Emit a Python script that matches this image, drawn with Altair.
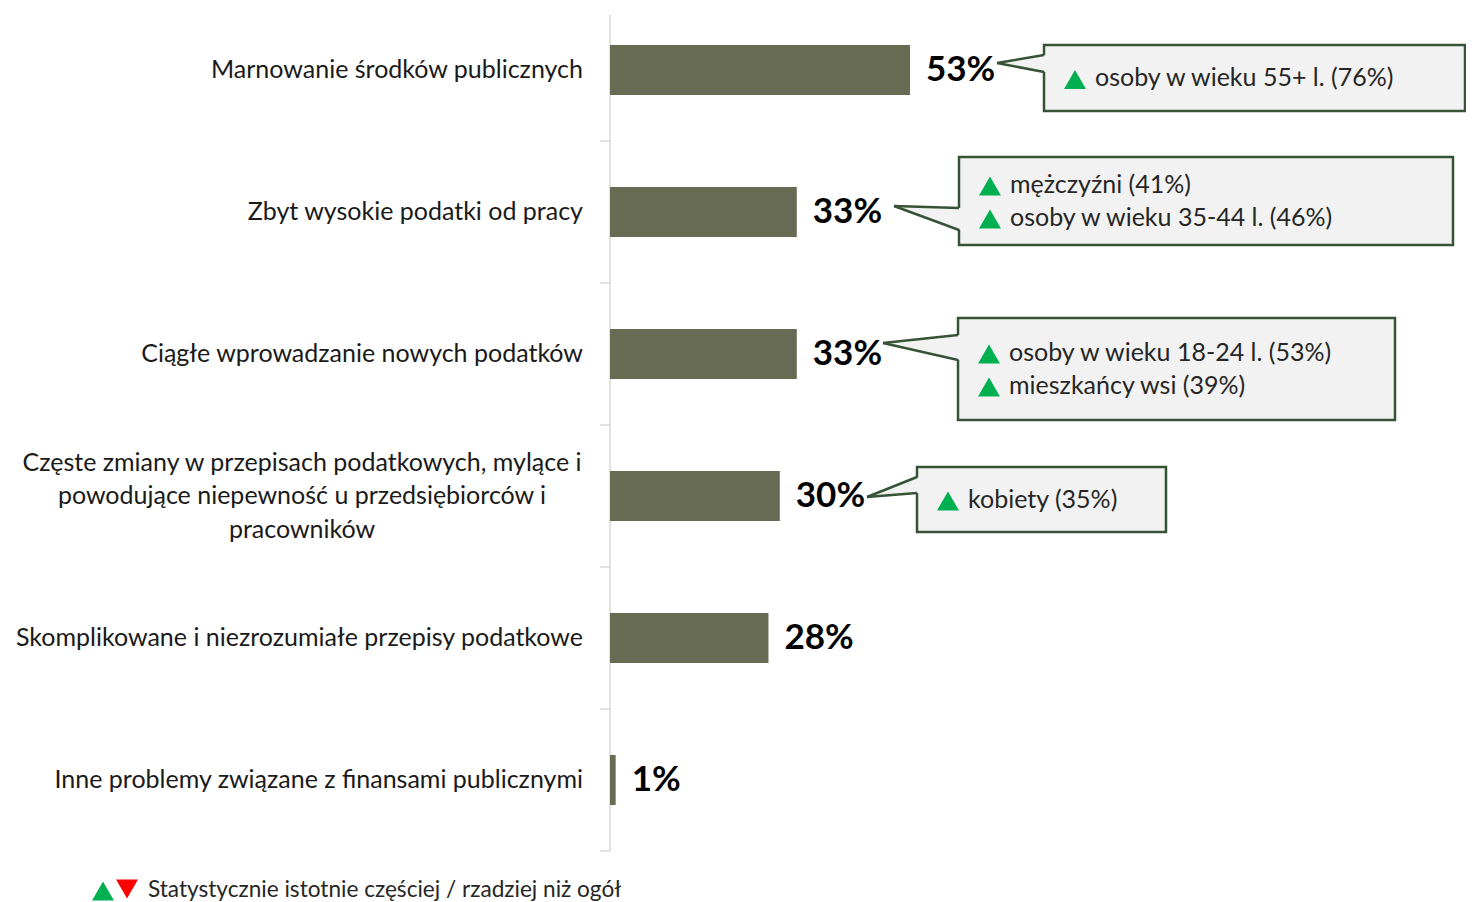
import altair as alt
import pandas as pd

# ---------------- data ----------------
CATEGORIES = [
    "Marnowanie środków publicznych",
    "Zbyt wysokie podatki od pracy",
    "Ciągłe wprowadzanie nowych podatków",
    "Częste zmiany w przepisach podatkowych, mylące i\npowodujące niepewność u przedsiębiorców i\npracowników",
    "Skomplikowane i niezrozumiałe przepisy podatkowe",
    "Inne problemy związane z finansami publicznymi",
]
VALUES = [53, 33, 33, 30, 28, 1]

CALLOUT_LINES = [
    ["osoby w wieku 55+ l. (76%)"],
    ["mężczyźni (41%)", "osoby w wieku 35-44 l. (46%)"],
    ["osoby w wieku 18-24 l. (53%)", "mieszkańcy wsi (39%)"],
    ["kobiety (35%)"],
    [],
    [],
]
LEGEND_TEXT = "Statystycznie istotnie częściej / rzadziej niż ogół"

# ---------------- layout / style ----------------
W, H = 856, 894
PX_PER_PCT = 5.66
STEP, FIRST, BAR_HALF = 142, 62, 25
AXIS_TOP_PX = 7
FONT = "Lato"
LABEL_SIZE = 25
LINE_H = 33.5
BAR_COLOR = "#676B53"
AXIS_COLOR = "#D9D9D9"
BOX_FILL = "#F2F2F2"
BOX_STROKE = "#375337"
UP_COLOR = "#00B050"
DOWN_COLOR = "#FF0000"
TEXT_COLOR = "#1A1A1A"

# callout boxes (plot-relative px): left, top, right, bottom ; pointer: tip_x, tip_y, base_top, base_bottom
CALLOUT_BOXES = [(434, 37, 855, 103), (349, 149, 843, 237), (348, 310, 785, 412), (307, 459, 556, 524)]
CALLOUT_POINTERS = [(387, 55, 47, 64), (284, 198, 200, 222), (273, 335, 327, 352), (257, 489, 469, 485)]
LINE_GAP = 33

# ---------------- tables ----------------
df = pd.DataFrame({"idx": list(range(len(CATEGORIES))), "label": CATEGORIES, "value": VALUES})
df["zero"] = 0
df["y0"] = df["idx"] - BAR_HALF / STEP
df["y1"] = df["idx"] + BAR_HALF / STEP
df["txt"] = df["value"].astype(str) + "%"
df["nlines"] = df["label"].str.count("\n") + 1
df["multi"] = df["nlines"] > 1
MAX_LINES = int(df["nlines"].max())

xs = alt.Scale(domain=[0, W / PX_PER_PCT], nice=False, zero=False)
ys = alt.Scale(domain=[-FIRST / STEP, (H - FIRST) / STEP], reverse=True, nice=False, zero=False)
px_x = alt.Scale(domain=[0, W], nice=False, zero=False)
px_y = alt.Scale(domain=[0, H], reverse=True, nice=False, zero=False)

axis_df = pd.DataFrame({"x": [0], "y0": [(AXIS_TOP_PX - FIRST) / STEP], "y1": [len(CATEGORIES) - 0.5]})
tick_df = pd.DataFrame({"b": [i + 0.5 for i in range(len(CATEGORIES))]})

axis_line = alt.Chart(axis_df).mark_rule(color=AXIS_COLOR, strokeWidth=1.5).encode(
    x=alt.X("x:Q", scale=xs, axis=None),
    y=alt.Y("y0:Q", scale=ys, axis=None),
    y2="y1:Q",
)
ticks = alt.Chart(tick_df).mark_rule(color=AXIS_COLOR, strokeWidth=1.5).encode(
    x=alt.value(-10), x2=alt.value(0),
    y=alt.Y("b:Q", scale=ys, axis=None),
)
bars = alt.Chart(df).mark_bar(color=BAR_COLOR).encode(
    x=alt.X("zero:Q", scale=xs, axis=None),
    x2="value:Q",
    y=alt.Y("y0:Q", scale=ys, axis=None),
    y2="y1:Q",
)
value_labels = alt.Chart(df).mark_text(
    align="left", baseline="middle", dx=16, font=FONT, fontWeight="bold", fontSize=35, color="#000000"
).encode(
    x=alt.X("value:Q", scale=xs, axis=None),
    y=alt.Y("idx:Q", scale=ys, axis=None),
    text="txt:N",
)
cat_single = alt.Chart(df).transform_filter("!datum.multi").mark_text(
    align="right", baseline="middle", font=FONT, fontSize=LABEL_SIZE, color=TEXT_COLOR
).encode(
    x=alt.value(-27),
    y=alt.Y("idx:Q", scale=ys, axis=None),
    text="label:N",
)
cat_multi = alt.Chart(df).transform_filter("datum.multi").mark_text(
    align="center", baseline="middle", font=FONT, fontSize=LABEL_SIZE, color=TEXT_COLOR,
    lineBreak="\n", lineHeight=LINE_H, dy=-(MAX_LINES - 1) / 2 * LINE_H
).encode(
    x=alt.value(-308),
    y=alt.Y("idx:Q", scale=ys, axis=None),
    text="label:N",
)
main = alt.layer(axis_line, ticks, bars, value_labels, cat_single, cat_multi)

# callouts
box_rows, area_rows, side_rows, tri_rows, txt_rows = [], [], [], [], []
for i, lines in enumerate(CALLOUT_LINES):
    if not lines:
        continue
    l, t, r, b = CALLOUT_BOXES[i]
    tx, ty, bt, bb = CALLOUT_POINTERS[i]
    box_rows.append({"id": i, "x0": l, "x1": r, "y0": t, "y1": b})
    area_rows.append({"id": i, "x": tx, "ya": ty, "yb": ty})
    area_rows.append({"id": i, "x": l + 2, "ya": bt, "yb": bb})
    side_rows.append({"x": tx, "y": ty, "x2": l, "y2": bt})
    side_rows.append({"x": tx, "y": ty, "x2": l, "y2": bb})
    cy = (t + b) / 2
    n = len(lines)
    for j, s in enumerate(lines):
        ly = cy + (j - (n - 1) / 2) * LINE_GAP
        tri_rows.append({"x": l + 31, "y": ly + 1.5})
        txt_rows.append({"x": l + 51, "y": ly, "text": s})

boxes = alt.Chart(pd.DataFrame(box_rows)).mark_rect(fill=BOX_FILL, stroke=BOX_STROKE, strokeWidth=2.5).encode(
    x=alt.X("x0:Q", scale=px_x, axis=None), x2="x1:Q",
    y=alt.Y("y0:Q", scale=px_y, axis=None), y2="y1:Q",
)
pointer_fill = alt.Chart(pd.DataFrame(area_rows)).mark_area(color=BOX_FILL, opacity=1).encode(
    x=alt.X("x:Q", scale=px_x, axis=None),
    y=alt.Y("ya:Q", scale=px_y, axis=None, stack=None), y2="yb:Q",
    detail="id:N",
)
pointer_sides = alt.Chart(pd.DataFrame(side_rows)).mark_rule(color=BOX_STROKE, strokeWidth=2.5).encode(
    x=alt.X("x:Q", scale=px_x, axis=None), x2="x2:Q",
    y=alt.Y("y:Q", scale=px_y, axis=None), y2="y2:Q",
)
tris = alt.Chart(pd.DataFrame(tri_rows)).mark_point(
    shape="triangle-up", filled=True, size=480, color=UP_COLOR, opacity=1
).encode(
    x=alt.X("x:Q", scale=px_x, axis=None),
    y=alt.Y("y:Q", scale=px_y, axis=None),
)
texts = alt.Chart(pd.DataFrame(txt_rows)).mark_text(
    align="left", baseline="middle", font=FONT, fontSize=LABEL_SIZE, color="#262626"
).encode(
    x=alt.X("x:Q", scale=px_x, axis=None),
    y=alt.Y("y:Q", scale=px_y, axis=None),
    text="text:N",
)

# footer legend
leg_df = pd.DataFrame({"x": [-507, -483], "y": [883, 881], "kind": ["up", "down"]})
leg_tris = alt.Chart(leg_df).mark_point(filled=True, size=480, opacity=1).encode(
    x=alt.X("x:Q", scale=px_x, axis=None),
    y=alt.Y("y:Q", scale=px_y, axis=None),
    shape=alt.Shape("kind:N", scale=alt.Scale(domain=["up", "down"], range=["triangle-up", "triangle-down"]), legend=None),
    color=alt.Color("kind:N", scale=alt.Scale(domain=["up", "down"], range=[UP_COLOR, DOWN_COLOR]), legend=None),
)
leg_text = alt.Chart(pd.DataFrame({"x": [-462], "y": [882], "text": [LEGEND_TEXT]})).mark_text(
    align="left", baseline="middle", font=FONT, fontSize=22.6, color="#262626"
).encode(
    x=alt.X("x:Q", scale=px_x, axis=None),
    y=alt.Y("y:Q", scale=px_y, axis=None),
    text="text:N",
)

callouts = alt.layer(boxes, pointer_fill, pointer_sides, tris, texts, leg_tris, leg_text)

chart = alt.layer(main, callouts).resolve_scale(
    x="independent", y="independent", shape="independent", color="independent"
).properties(
    width=W, height=H,
    padding={"left": 602, "top": 0, "right": 0, "bottom": 0},
    autosize=alt.AutoSizeParams(type="none"),
    background="white",
).configure_view(stroke=None)

chart.save("out.html", embed_options={"renderer": "svg", "actions": False})
